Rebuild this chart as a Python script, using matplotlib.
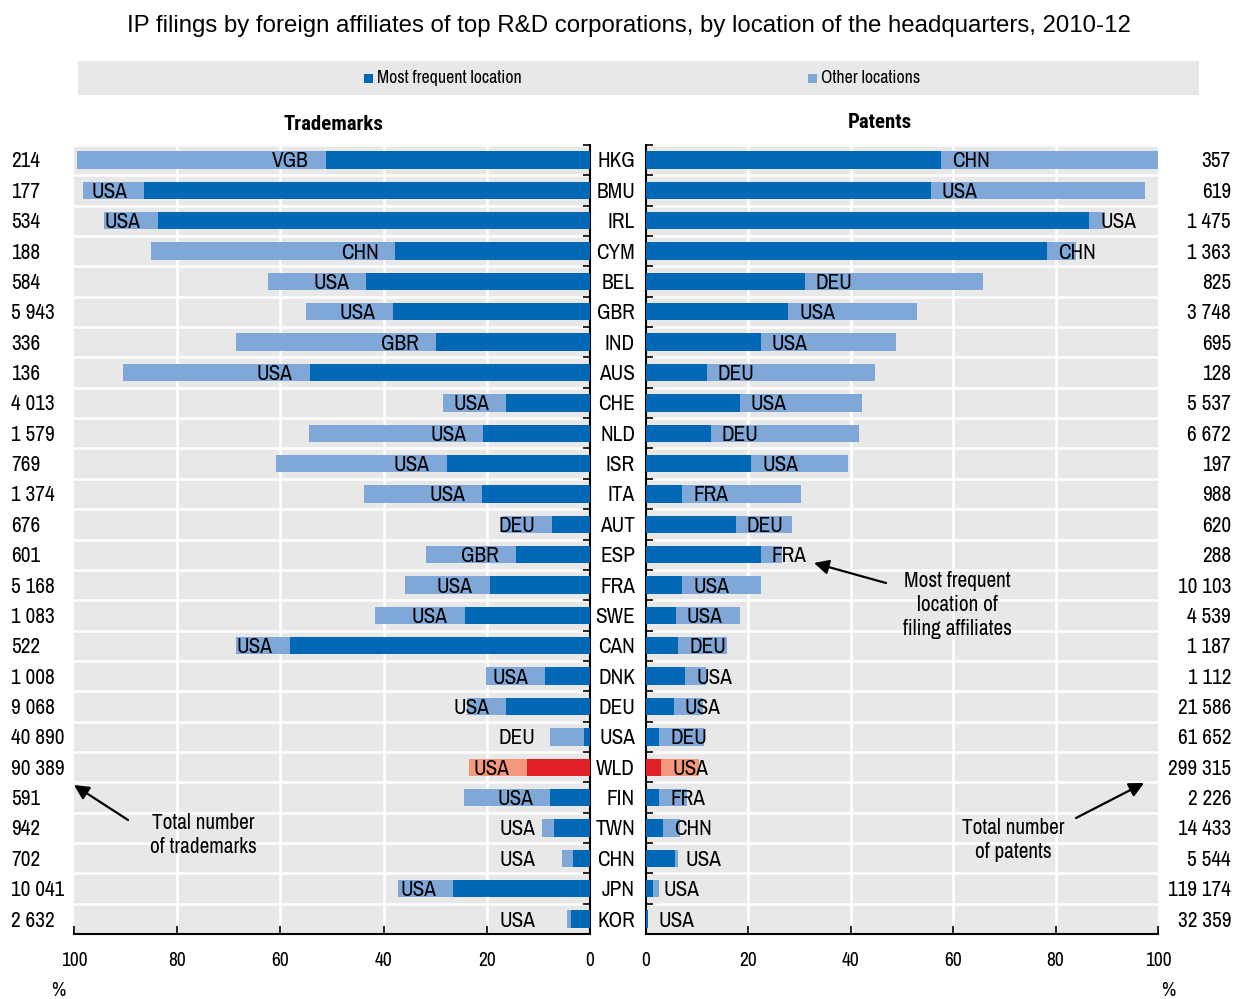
import matplotlib
matplotlib.use('Agg')
import matplotlib.pyplot as plt
from matplotlib import font_manager
from matplotlib.patches import Rectangle, FancyArrowPatch

_fonts = font_manager.fontManager.ttflist
names = {f.name for f in _fonts}
_pref = ['Liberation Sans Narrow', 'Arial Narrow', 'Archivo Narrow', 'Roboto Condensed', 'PT Sans Narrow',
         'IBM Plex Sans Condensed', 'Open Sans Condensed']
NARROW = [f for f in _pref if f in names][:1] + ['Liberation Sans', 'DejaVu Sans']
_bold_ok = {f.name for f in _fonts if (f.weight if isinstance(f.weight, int) else 400) >= 700
            or f.weight in ('bold', 'heavy', 'black')}
NARROW_B = [f for f in _pref if f in _bold_ok][:1] + ['Liberation Sans', 'DejaVu Sans']
REG = ['Liberation Sans', 'DejaVu Sans']

countries = ["HKG", "BMU", "IRL", "CYM", "BEL", "GBR", "IND", "AUS", "CHE", "NLD", "ISR", "ITA", "AUT",
             "ESP", "FRA", "SWE", "CAN", "DNK", "DEU", "USA", "WLD", "FIN", "TWN", "CHN", "JPN", "KOR"]

tm_main = [51.2, 86.4, 83.8, 37.7, 43.4, 38.2, 29.9, 54.3, 16.2, 20.7, 27.8, 20.9, 7.3,
           14.3, 19.4, 24.3, 58.2, 8.7, 16.2, 1.2, 12.3, 7.7, 7.0, 3.3, 26.5, 3.6]
tm_total = [99.5, 98.3, 94.2, 85.0, 62.4, 55.1, 68.7, 90.5, 28.5, 54.5, 60.8, 43.8, 17.1,
            31.8, 35.9, 41.7, 68.7, 20.2, 23.8, 7.8, 23.5, 24.5, 9.3, 5.4, 37.2, 4.5]
tm_loc = ["VGB", "USA", "USA", "CHN", "USA", "USA", "GBR", "USA", "USA", "USA", "USA", "USA", "DEU",
          "GBR", "USA", "USA", "USA", "USA", "USA", "DEU", "USA", "USA", "USA", "USA", "USA", "USA"]
tm_count = ["214", "177", "534", "188", "584", "5 943", "336", "136", "4 013", "1 579", "769", "1 374", "676",
            "601", "5 168", "1 083", "522", "1 008", "9 068", "40 890", "90 389", "591", "942", "702",
            "10 041", "2 632"]

pt_main = [57.7, 55.7, 86.6, 78.3, 31.1, 27.8, 22.5, 11.9, 18.3, 12.6, 20.6, 7.1, 17.6,
           22.5, 7.1, 5.8, 6.3, 7.7, 5.5, 2.6, 3.0, 2.6, 3.4, 5.7, 1.3, 0.3]
pt_total = [100.0, 97.4, 89.6, 84.0, 65.8, 52.9, 48.8, 44.7, 42.1, 41.6, 39.5, 30.3, 28.6,
            26.5, 22.5, 18.4, 15.9, 11.8, 11.2, 11.4, 10.3, 8.1, 6.7, 6.2, 2.6, 0.4]
pt_loc = ["CHN", "USA", "USA", "CHN", "DEU", "USA", "USA", "DEU", "USA", "DEU", "USA", "FRA", "DEU",
          "FRA", "USA", "USA", "DEU", "USA", "USA", "DEU", "USA", "FRA", "CHN", "USA", "USA", "USA"]
pt_count = ["357", "619", "1 475", "1 363", "825", "3 748", "695", "128", "5 537", "6 672", "197", "988", "620",
            "288", "10 103", "4 539", "1 187", "1 112", "21 586", "61 652", "299 315", "2 226", "14 433",
            "5 544", "119 174", "32 359"]

xticks = [0, 20, 40, 60, 80, 100]

DARK = '#0068B4'
LIGHT = '#7FA7D8'
RED = '#E01E26'
SALMON = '#F4977A'
BG = '#E8E8E8'

W, H = 1234, 999
fig = plt.figure(figsize=(W / 100, H / 100), dpi=100)


def FX(x):
    return x / W


def FY(y):
    return 1 - y / H


top, bot = 144.8, 934.2
axL = fig.add_axes([FX(74), FY(bot), FX(590) - FX(74), (bot - top) / H])
axR = fig.add_axes([FX(646), FY(bot), FX(1158) - FX(646), (bot - top) / H])

n = len(countries)
ypos = list(range(n))
FS = 15.3

for ax, main, total in ((axL, tm_main, tm_total), (axR, pt_main, pt_total)):
    ax.set_facecolor(BG)
    cl = [SALMON if c == 'WLD' else LIGHT for c in countries]
    cd = [RED if c == 'WLD' else DARK for c in countries]
    ax.barh(ypos, total, height=0.57, color=cl, zorder=2)
    ax.barh(ypos, main, height=0.57, color=cd, zorder=3)
    ax.set_ylim(n - 0.5, -0.5)
    ax.set_xticks(xticks)
    ax.set_xticklabels([str(t) for t in xticks], fontsize=14, family=NARROW)
    ax.set_yticks([k + 0.5 for k in range(-1, n)])
    ax.set_yticklabels([])
    for k in range(-1, n):
        ax.axhline(k + 0.5, color='white', lw=1.8, zorder=1)
    for t in (20, 40, 60, 80):
        ax.axvline(t, color='white', lw=1.8, zorder=1)
    ax.tick_params(axis='x', direction='in', length=6, width=1.2, pad=12, colors='black')
    for s in ('top', 'left', 'right', 'bottom'):
        ax.spines[s].set_visible(False)
    ax.spines['bottom'].set_visible(True)
    ax.spines['bottom'].set_linewidth(1.5)

axL.set_xlim(100, 0)
axR.set_xlim(0, 100)
axL.spines['right'].set_visible(True)
axL.spines['right'].set_linewidth(1.5)
axL.yaxis.tick_right()
axL.tick_params(axis='y', direction='in', length=5, width=1.2)
axR.spines['left'].set_visible(True)
axR.spines['left'].set_linewidth(1.5)
axR.tick_params(axis='y', direction='in', length=5, width=1.2)

for i in range(n):
    v = max(tm_main[i] + 3.3, 10.5)
    axL.text(v, i + 0.05, tm_loc[i], ha='right', va='center', fontsize=FS, family=NARROW, zorder=5)
    axR.text(pt_main[i] + 2.1, i + 0.05, pt_loc[i], ha='left', va='center', fontsize=FS, family=NARROW, zorder=5)
    yc = FY(top + (i + 0.5) * (bot - top) / n + 1.5)
    fig.text(FX(11), yc, tm_count[i], ha='left', va='center', fontsize=FS, family=NARROW)
    fig.text(FX(1231), yc, pt_count[i], ha='right', va='center', fontsize=FS, family=NARROW)
    fig.text(FX(635), yc, countries[i], ha='right', va='center', fontsize=FS, family=NARROW)

# title
fig.text(FX(629), FY(26), "IP filings by foreign affiliates of top R&D corporations, by location of the headquarters, 2010-12",
         ha='center', va='center', fontsize=17.3, family=REG)

# legend band
fig.patches.append(Rectangle((FX(78), FY(95)), FX(1199) - FX(78), (95 - 61) / H, transform=fig.transFigure,
                             facecolor=BG, edgecolor='none'))
fig.patches.append(Rectangle((FX(364), FY(83)), 9 / W, 9 / H, transform=fig.transFigure,
                             facecolor=DARK, edgecolor='none'))
fig.text(FX(377), FY(78), "Most frequent location", ha='left', va='center', fontsize=12.8, family=NARROW)
fig.patches.append(Rectangle((FX(808), FY(83)), 9 / W, 9 / H, transform=fig.transFigure,
                             facecolor=LIGHT, edgecolor='none'))
fig.text(FX(821), FY(78), "Other locations", ha='left', va='center', fontsize=12.8, family=NARROW)

fig.text(FX(333), FY(124), "Trademarks", ha='center', va='center', fontsize=15, family=NARROW_B, weight='bold')
fig.text(FX(880), FY(122), "Patents", ha='center', va='center', fontsize=15, family=NARROW_B, weight='bold')

fig.text(FX(58), FY(990), "%", ha='center', va='center', fontsize=14, family=NARROW)
fig.text(FX(1168), FY(990), "%", ha='center', va='center', fontsize=14, family=NARROW)

ap = dict(arrowstyle='-|>', color='black', lw=1.6, mutation_scale=22, shrinkA=0, shrinkB=0)
fig.text(FX(203), FY(835), "Total number\nof trademarks", ha='center', va='center', fontsize=15.3,
         family=NARROW, linespacing=1.22)
fig.add_artist(FancyArrowPatch((FX(128), FY(820)), (FX(74), FY(785)), transform=fig.transFigure, **ap))
fig.text(FX(957), FY(605), "Most frequent\nlocation of\nfiling affiliates", ha='center', va='center',
         fontsize=15.3, family=NARROW, linespacing=1.22)
fig.add_artist(FancyArrowPatch((FX(886), FY(583)), (FX(814), FY(563)), transform=fig.transFigure, **ap))
fig.text(FX(1013), FY(840), "Total number\nof patents", ha='center', va='center', fontsize=15.3,
         family=NARROW, linespacing=1.22)
fig.add_artist(FancyArrowPatch((FX(1076), FY(818)), (FX(1144), FY(783)), transform=fig.transFigure, **ap))

fig.savefig('out.png', dpi=100)
